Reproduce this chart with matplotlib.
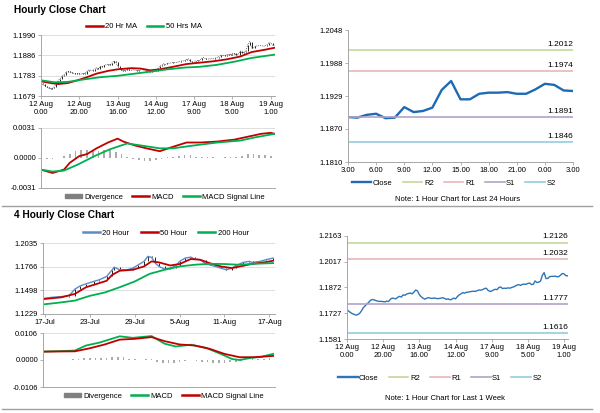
import numpy as np
import matplotlib
matplotlib.use("Agg")
import matplotlib.pyplot as plt
from matplotlib.lines import Line2D
from matplotlib.patches import Patch

plt.rcParams['font.family'] = ['Liberation Sans', 'DejaVu Sans']

# ---------------- data ----------------
# hourly close, last week (12 Aug 0.00 -> 19 Aug 3.00)
close_week = [1.1746, 1.1738, 1.1730, 1.1724, 1.1720, 1.1716, 1.1719, 1.1726, 1.1740, 1.1758,
              1.1768, 1.1779, 1.1788, 1.1800, 1.1804, 1.1802, 1.1798, 1.1795, 1.1793, 1.1794,
              1.1792, 1.1791, 1.1795, 1.1793, 1.1806, 1.1812, 1.1810, 1.1808, 1.1816, 1.1822,
              1.1818, 1.1830, 1.1828, 1.1835, 1.1838, 1.1841, 1.1836, 1.1846, 1.1858, 1.1852,
              1.1832, 1.1820, 1.1812, 1.1806, 1.1811, 1.1815, 1.1812, 1.1810, 1.1813, 1.1811,
              1.1809, 1.1810, 1.1812, 1.1814, 1.1810, 1.1805, 1.1808, 1.1802, 1.1806, 1.1812,
              1.1808, 1.1820, 1.1830, 1.1836, 1.1843, 1.1840, 1.1845, 1.1846, 1.1848, 1.1850,
              1.1851, 1.1850, 1.1854, 1.1858, 1.1857, 1.1860, 1.1866, 1.1868, 1.1856, 1.1850,
              1.1852, 1.1858, 1.1862, 1.1860, 1.1872, 1.1875, 1.1866, 1.1868, 1.1867, 1.1870,
              1.1868, 1.1872, 1.1875, 1.1880, 1.1886, 1.1888, 1.1884, 1.1890,
              1.1891, 1.1890, 1.1895, 1.1897, 1.1889, 1.1890, 1.1909, 1.1900, 1.1902, 1.1908,
              1.1940, 1.1956, 1.1923, 1.1923, 1.1933, 1.1935, 1.1935, 1.1936, 1.1933, 1.1933,
              1.1941, 1.1951, 1.1949, 1.1939, 1.1938]
week_ticks = [0, 20, 40, 60, 80, 100, 120]
week_labels = ['12 Aug\n0.00', '12 Aug\n20.00', '13 Aug\n16.00', '14 Aug\n12.00',
               '17 Aug\n9.00', '18 Aug\n5.00', '19 Aug\n1.00']

ma20_x = [0, 5, 9, 14, 19, 24, 29, 35, 40, 47, 52, 57, 62, 69, 76, 83, 90, 97, 104, 110, 117, 122]
ma20_y = [1.1754, 1.1745, 1.1740, 1.1745, 1.1759, 1.1775, 1.1793, 1.1807, 1.1815, 1.1821, 1.1819,
          1.1810, 1.1815, 1.1828, 1.1842, 1.1849, 1.1856, 1.1866, 1.1880, 1.1903, 1.1915, 1.1925]
ma50_x = [0, 7, 14, 22, 31, 40, 49, 57, 66, 75, 83, 92, 101, 110, 122]
ma50_y = [1.1759, 1.1749, 1.1751, 1.1763, 1.1775, 1.1782, 1.1793, 1.1803, 1.1815, 1.1824,
          1.1828, 1.1838, 1.1854, 1.1873, 1.1890]

macd1_x = [0, 6, 12, 15, 20, 24, 29, 35, 40, 43, 49, 55, 62, 68, 76, 83, 92, 101, 108, 115, 120, 122]
macd1_y = [-0.0012, -0.00155, -0.0012, -0.0005, 0.0002, 0.0004, 0.0010, 0.0016, 0.0020, 0.0017,
           0.0013, 0.0010, 0.0007, 0.0011, 0.0016, 0.0016, 0.0017, 0.0019, 0.0022, 0.0025, 0.0026, 0.0025]
sig1_x = [0, 6, 12, 19, 28, 36, 45, 52, 62, 69, 80, 92, 104, 111, 122]
sig1_y = [-0.0012, -0.0014, -0.0013, -0.0007, 0.0002, 0.0009, 0.0015, 0.0013, 0.0010, 0.0010,
          0.0013, 0.0016, 0.0018, 0.0021, 0.0025]
div1_x = list(range(0, 121, 3))
div1_y = [0.0000, -0.0001, -0.0001, 0.0000, 0.0002, 0.0004, 0.0007, 0.0008, 0.0008, 0.0007,
          0.0007, 0.0008, 0.0008, 0.0006, 0.0004, 0.0001, -0.0001, -0.0002, -0.0003, -0.0003,
          -0.0002, -0.0001, 0.0001, 0.0001, 0.0002, 0.0003, 0.0003, 0.0001, 0.0001, 0.0001,
          0.0001, 0.0000, 0.0001, 0.0001, 0.0001, 0.0002, 0.0004, 0.0004, 0.0003, 0.0003, 0.0002]

# last 24 hours
close_24h = close_week[-25:]
h24_labels = ['3.00', '6.00', '9.00', '12.00', '15.00', '18.00', '21.00', '0.00', '3.00']
lv24 = {'R2': 1.2012, 'R1': 1.1974, 'S1': 1.1891, 'S2': 1.1846}
lvweek = {'R2': 1.2126, 'R1': 1.2032, 'S1': 1.1777, 'S2': 1.1616}

# 4 hourly
fh_ticks = [0, 24, 48, 72, 96, 120]
fh_labels = ['17-Jul', '23-Jul', '29-Jul', '5-Aug', '11-Aug', '17-Aug']
px_x = [0, 4, 9, 13, 16, 19, 22, 26, 29, 33, 36, 37, 40, 44, 47, 50, 53, 55, 57, 59, 61, 64, 67,
        70, 72, 75, 78, 80, 83, 86, 88, 91, 94, 97, 100, 102, 106, 109, 111, 115, 118, 122]
px_y = [1.1408, 1.1419, 1.1427, 1.1438, 1.1511, 1.1549, 1.1571, 1.1598, 1.1617, 1.1655, 1.1731,
        1.1761, 1.1731, 1.1731, 1.1750, 1.1788, 1.1826, 1.1883, 1.1872, 1.1807, 1.1769, 1.1739,
        1.1750, 1.1777, 1.1826, 1.1864, 1.1875, 1.1853, 1.1845, 1.1799, 1.1788, 1.1769, 1.1750,
        1.1731, 1.1750, 1.1777, 1.1815, 1.1826, 1.1815, 1.1826, 1.1845, 1.1864]
h50_x = [0, 9, 16, 22, 29, 33, 36, 40, 47, 53, 57, 61, 67, 72, 78, 83, 88, 94, 100, 106, 111, 118, 122]
h50_y = [1.1400, 1.1419, 1.1457, 1.1533, 1.1579, 1.1606, 1.1674, 1.1720, 1.1731, 1.1769, 1.1826,
         1.1815, 1.1780, 1.1796, 1.1853, 1.1845, 1.1807, 1.1769, 1.1750, 1.1777, 1.1799, 1.1818, 1.1834]
h200_x = [0, 8, 16, 24, 32, 40, 48, 56, 64, 72, 80, 88, 96, 104, 112, 122]
h200_y = [1.1340, 1.1359, 1.1381, 1.1435, 1.1473, 1.1533, 1.1598, 1.1685, 1.1731, 1.1769,
          1.1788, 1.1799, 1.1796, 1.1788, 1.1799, 1.1807]

macd4_x = [0, 16, 22, 29, 40, 47, 57, 64, 70, 78, 86, 94, 100, 104, 110, 116, 122]
macd4_y = [0.0033, 0.0037, 0.0057, 0.0068, 0.0093, 0.0087, 0.0094, 0.0064, 0.0053, 0.0060,
           0.0048, 0.0024, 0.0004, 0.0000, 0.0008, 0.0013, 0.0024]
sig4_x = [0, 16, 24, 32, 40, 48, 57, 64, 72, 80, 88, 96, 104, 112, 122]
sig4_y = [0.0033, 0.0034, 0.0046, 0.0061, 0.0080, 0.0083, 0.0090, 0.0074, 0.0061, 0.0057,
          0.0044, 0.0024, 0.0011, 0.0011, 0.0016]
div4_x = list(range(0, 121, 3))
div4_y = [0.0000, 0.0000, 0.0000, 0.0000, 0.0001, 0.0002, 0.0005, 0.0008, 0.0009, 0.0009,
          0.0008, 0.0008, 0.0010, 0.0013, 0.0010, 0.0005, 0.0002, 0.0001, 0.0002, 0.0003,
          -0.0006, -0.0010, -0.0012, -0.0011, -0.0008, -0.0002, 0.0001, -0.0003, -0.0006, -0.0009,
          -0.0012, -0.0013, -0.0012, -0.0009, -0.0006, -0.0002, 0.0001, 0.0002, 0.0003, 0.0005, 0.0006]

RED = '#C00000'
GREEN = '#00B050'
GRAY = '#A6A6A6'
FS = 5.5

fig = plt.figure(figsize=(6, 4.13), dpi=100)
W, H = 600.0, 413.0


def add_ax(l, t, r, b):
    return fig.add_axes([l / W, (H - b) / H, (r - l) / W, (b - t) / H])


def style(ax, grid=True):
    for s in ['top', 'right']:
        ax.spines[s].set_visible(False)
    for s in ['left', 'bottom']:
        ax.spines[s].set_color(GRAY)
        ax.spines[s].set_linewidth(0.7)
    ax.tick_params(labelsize=FS, length=2, width=0.6, color=GRAY, pad=1.5)
    if grid:
        ax.yaxis.grid(True, color='#D9D9D9', lw=0.6)
        ax.set_axisbelow(True)


def sticks(ax, x, y):
    x = np.asarray(x); y = np.asarray(y)
    ax.vlines(x[1:], np.minimum(y[:-1], y[1:]), np.maximum(y[:-1], y[1:]), color='black', lw=0.6)


# ---------- Hourly close chart ----------
fig.text(14 / W, 1 - 10 / H, 'Hourly Close Chart', fontsize=7.3, fontweight='bold', va='center')

ax1 = add_ax(41, 35, 275, 96)
style(ax1)
xw = np.arange(len(close_week))
sticks(ax1, xw, close_week)
ax1.plot(xw, close_week, color='black', lw=0.5, ls=':')
ax1.plot(ma20_x, ma20_y, color=RED, lw=1.3)
ax1.plot(ma50_x, ma50_y, color=GREEN, lw=1.3)
ax1.set_xlim(0, 122.2)
t1 = [1.1679, 1.1783, 1.1886, 1.1990]
ax1.set_ylim(t1[0], t1[-1])
ax1.set_yticks(t1)
ax1.set_yticklabels(['%.4f' % v for v in t1])
ax1.set_xticks(week_ticks)
ax1.set_xticklabels(week_labels)
ax1.legend([Line2D([], [], color=RED, lw=1.8), Line2D([], [], color=GREEN, lw=1.8)],
           ['20 Hr MA', '50 Hrs MA'], loc='lower center', bbox_to_anchor=(0.44, 1.0),
           ncol=2, frameon=False, fontsize=FS, handlelength=2.2, handletextpad=0.3,
           columnspacing=1.2, borderpad=0.1)

ax2 = add_ax(41, 128, 275, 188)
style(ax2, grid=False)
ax2.axhline(0.0031, color='#D9D9D9', lw=0.6)
ax2.bar(div1_x, div1_y, width=0.9, color='#ABABAB')
ax2.plot(macd1_x, macd1_y, color=RED, lw=1.3)
ax2.plot(sig1_x, sig1_y, color=GREEN, lw=1.3)
ax2.set_xlim(0, 122.2)
ax2.set_ylim(-0.0031, 0.0031)
ax2.set_yticks([-0.0031, 0.0, 0.0031])
ax2.set_yticklabels(['-0.0031', '0.0000', '0.0031'])
ax2.set_xticks([])
ax2.legend([Patch(color='#808080'), Line2D([], [], color=RED, lw=1.8),
            Line2D([], [], color=GREEN, lw=1.8)],
           ['Divergence', 'MACD', 'MACD Signal Line'], loc='upper center',
           bbox_to_anchor=(0.53, -0.02), ncol=3, frameon=False, fontsize=FS,
           handlelength=2.2, handleheight=0.5, handletextpad=0.3, columnspacing=1.2, borderpad=0.1)

# ---------- last 24 hours ----------
LVC = {'R2': '#C4D79B', 'R1': '#E6B9B8', 'S1': '#B3A2C7', 'S2': '#93CDDD'}
ax3 = add_ax(348, 30, 573, 162)
style(ax3, grid=False)
ax3.plot(np.arange(len(close_24h)), close_24h, color='#1F6AB5', lw=1.7)
for k, v in lv24.items():
    ax3.axhline(v, color=LVC[k], lw=1.2)
    ax3.text(24, v + 0.0004, '%.4f' % v, ha='right', va='bottom', fontsize=FS + 0.5)
ax3.set_xlim(0, 24)
ax3.set_ylim(1.1810, 1.2048)
ax3.set_yticks([1.1810, 1.1870, 1.1929, 1.1988, 1.2048])
ax3.set_yticklabels(['1.1810', '1.1870', '1.1929', '1.1988', '1.2048'])
ax3.set_xticks(range(0, 25, 3))
ax3.set_xticklabels(h24_labels)
ax3.legend([Line2D([], [], color='#1F6AB5', lw=1.7)] + [Line2D([], [], color=LVC[k], lw=1.2) for k in lv24],
           ['Close'] + list(lv24.keys()), loc='upper center', bbox_to_anchor=(0.47, -0.1),
           ncol=5, frameon=False, fontsize=FS, handlelength=2.6, handletextpad=0.2,
           columnspacing=1.3, borderpad=0.1)
fig.text(458 / W, 1 - 200 / H, 'Note: 1 Hour Chart for Last 24 Hours', fontsize=FS,
         ha='center', va='center')

fig.add_artist(Line2D([2 / W, 592 / W], [1 - 206 / H, 1 - 206 / H], color='#A0A0A0', lw=1))

# ---------- 4 hourly close chart ----------
fig.text(14 / W, 1 - 215 / H, '4 Hourly Close Chart', fontsize=7.3, fontweight='bold', va='center')

ax4 = add_ax(43, 243, 275, 314)
style(ax4)
sticks(ax4, px_x, px_y)
ax4.plot(px_x, px_y, color='#5B8CC8', lw=1.0)
ax4.plot(h50_x, h50_y, color=RED, lw=1.3)
ax4.plot(h200_x, h200_y, color=GREEN, lw=1.3)
ax4.set_xlim(-1, 123)
t4 = [1.1229, 1.1498, 1.1766, 1.2035]
ax4.set_ylim(t4[0], t4[-1])
ax4.set_yticks(t4)
ax4.set_yticklabels(['%.4f' % v for v in t4])
ax4.set_xticks(fh_ticks)
ax4.set_xticklabels(fh_labels)
ax4.legend([Line2D([], [], color='#5B8CC8', lw=1.8), Line2D([], [], color=RED, lw=1.8),
            Line2D([], [], color=GREEN, lw=1.8)],
           ['20 Hour', '50 Hour', '200 Hour'], loc='lower center', bbox_to_anchor=(0.53, 1.02),
           ncol=3, frameon=False, fontsize=FS, handlelength=2.2, handletextpad=0.3,
           columnspacing=1.5, borderpad=0.1)

ax5 = add_ax(43, 333, 275, 387)
style(ax5, grid=False)
ax5.axhline(0.0106, color='#D9D9D9', lw=0.6)
ax5.bar(div4_x, div4_y, width=0.9, color='#ABABAB')
ax5.plot(macd4_x, macd4_y, color=GREEN, lw=1.3)
ax5.plot(sig4_x, sig4_y, color=RED, lw=1.3)
ax5.set_xlim(-1, 123)
ax5.set_ylim(-0.0106, 0.0106)
ax5.set_yticks([-0.0106, 0.0, 0.0106])
ax5.set_yticklabels(['-0.0106', '0.0000', '0.0106'])
ax5.set_xticks([])
ax5.legend([Patch(color='#808080'), Line2D([], [], color=GREEN, lw=1.8),
            Line2D([], [], color=RED, lw=1.8)],
           ['Divergence', 'MACD', 'MACD Signal Line'], loc='upper center',
           bbox_to_anchor=(0.52, -0.02), ncol=3, frameon=False, fontsize=FS,
           handlelength=2.2, handleheight=0.5, handletextpad=0.3, columnspacing=1.2, borderpad=0.1)

# ---------- last week ----------
ax6 = add_ax(347, 236, 568, 339)
style(ax6, grid=False)
ax6.plot(xw, close_week, color='#2E75B6', lw=1.0)
for k, v in lvweek.items():
    ax6.axhline(v, color=LVC[k], lw=1.2)
    ax6.text(122.2, v + 0.0012, '%.4f' % v, ha='right', va='bottom', fontsize=FS + 0.5)
ax6.set_xlim(0, 122.2)
ax6.set_ylim(1.1581, 1.2163)
ax6.set_yticks([1.1581, 1.1727, 1.1872, 1.2017, 1.2163])
ax6.set_yticklabels(['1.1581', '1.1727', '1.1872', '1.2017', '1.2163'])
ax6.set_xticks(week_ticks)
ax6.set_xticklabels(week_labels)
ax6.legend([Line2D([], [], color='#2E75B6', lw=1.7)] + [Line2D([], [], color=LVC[k], lw=1.2) for k in lvweek],
           ['Close'] + list(lvweek.keys()), loc='upper center', bbox_to_anchor=(0.42, -0.3),
           ncol=5, frameon=False, fontsize=FS, handlelength=2.6, handletextpad=0.2,
           columnspacing=1.3, borderpad=0.1)
fig.text(445 / W, 1 - 398 / H, 'Note: 1 Hour Chart for Last 1 Week', fontsize=FS,
         ha='center', va='center')

fig.add_artist(Line2D([2 / W, 592 / W], [1 - 409 / H, 1 - 409 / H], color='#A0A0A0', lw=1))

fig.savefig('out.png', dpi=100)
